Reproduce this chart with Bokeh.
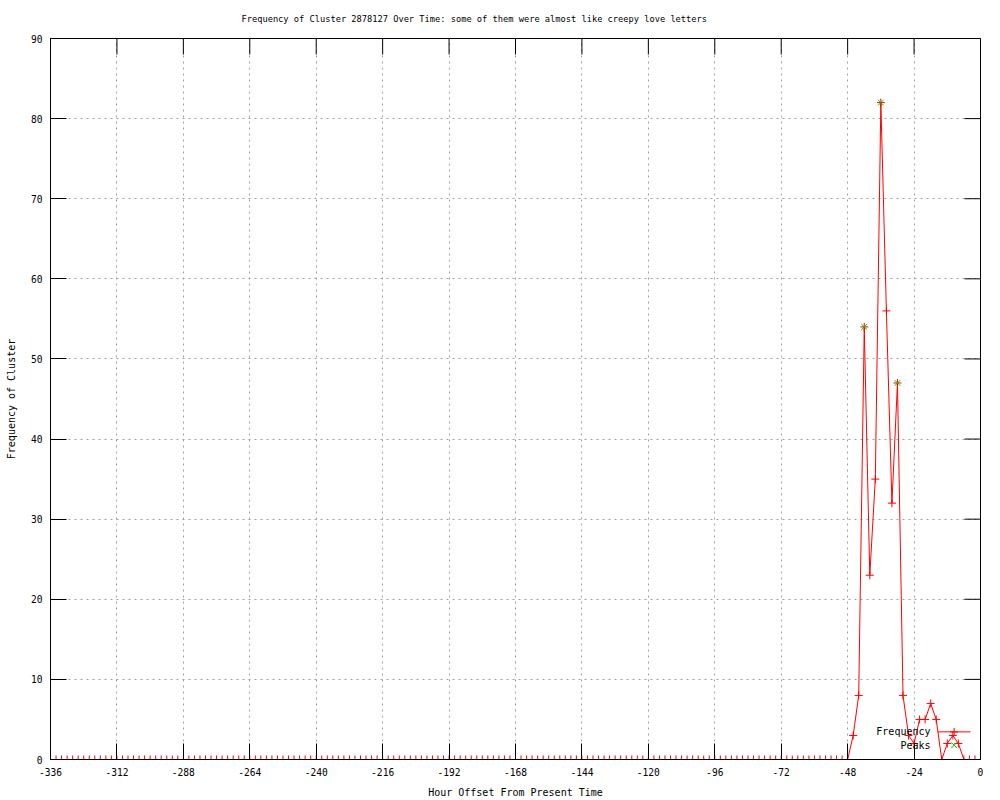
import math
from bokeh.plotting import figure
from bokeh.models import Range1d, FixedTicker, Label
from bokeh.embed import file_html
from bokeh.resources import INLINE

# ---- data -------------------------------------------------------------
hours = list(range(-336, 0, 2))  # sample positions (every 2 hours)
counts = [
    0, 0, 0, 0, 0, 0, 0, 0, 0, 0, 0, 0,   # -336 .. -314
    0, 0, 0, 0, 0, 0, 0, 0, 0, 0, 0, 0,   # -312 .. -290
    0, 0, 0, 0, 0, 0, 0, 0, 0, 0, 0, 0,   # -288 .. -266
    0, 0, 0, 0, 0, 0, 0, 0, 0, 0, 0, 0,   # -264 .. -242
    0, 0, 0, 0, 0, 0, 0, 0, 0, 0, 0, 0,   # -240 .. -218
    0, 0, 0, 0, 0, 0, 0, 0, 0, 0, 0, 0,   # -216 .. -194
    0, 0, 0, 0, 0, 0, 0, 0, 0, 0, 0, 0,   # -192 .. -170
    0, 0, 0, 0, 0, 0, 0, 0, 0, 0, 0, 0,   # -168 .. -146
    0, 0, 0, 0, 0, 0, 0, 0, 0, 0, 0, 0,   # -144 .. -122
    0, 0, 0, 0, 0, 0, 0, 0, 0, 0, 0, 0,   # -120 .. -98
    0, 0, 0, 0, 0, 0, 0, 0, 0, 0, 0, 0,   # -96 .. -74
    0, 0, 0, 0, 0, 0, 0, 0, 0, 0, 0, 0,   # -72 .. -50
    0, 3, 8, 54, 23, 35, 82, 56, 32, 47, 8, 3,   # -48 .. -26
    2, 5, 5, 7, 5, 0, 2, 3, 2, 0, 0, 0,          # -24 .. -2
]
peak_hours = [-42, -36, -30]
peak_counts = [54, 82, 47]

x_ticks = [-336, -312, -288, -264, -240, -216, -192, -168, -144, -120, -96, -72, -48, -24, 0]
x_tick_labels = ["-336", "-312", "-288", "-264", "-240", "-216", "-192", "-168",
                 "-144", "-120", "-96", "-72", "-48", "-24", "0"]
y_ticks = [0, 10, 20, 30, 40, 50, 60, 70, 80, 90]
X_MIN, X_MAX = -336, 0
Y_MIN, Y_MAX = 0, 90

title_text = "Frequency of Cluster 2878127 Over Time: some of them were almost like creepy love letters"
x_label = "Hour Offset From Present Time"
y_label = "Frequency of Cluster"
series_names = ["Frequency", "Peaks"]

FONT = "DejaVu Sans Mono"
RED = "#ff0000"
GREEN = "#00c000"

# ---- figure -----------------------------------------------------------
p = figure(width=1000, height=800, output_backend="svg", toolbar_location=None,
           x_range=Range1d(X_MIN, X_MAX), y_range=Range1d(Y_MIN, Y_MAX),
           min_border_left=50, min_border_right=20, min_border_top=38, min_border_bottom=40)
p.background_fill_color = "white"
p.border_fill_color = "white"
p.outline_line_color = "black"
p.outline_line_width = 1

p.title.text = title_text
p.title.align = "left"
p.title.vertical_align = "top"
p.title.offset = 191
p.title.text_font = FONT
p.title.text_font_size = "8.7px"
p.title.text_font_style = "normal"
p.title.text_color = "black"
p.title.standoff = 25

xt = FixedTicker(ticks=x_ticks)
yt = FixedTicker(ticks=y_ticks)

for ax in p.xaxis:
    ax.ticker = xt
    ax.major_label_overrides = {t: s for t, s in zip(x_ticks, x_tick_labels)}
    ax.axis_label = x_label
    ax.major_label_standoff = 8
    ax.axis_label_standoff = 8
for ax in p.yaxis:
    ax.ticker = yt
    ax.axis_label = y_label
    ax.major_label_standoff = 8
    ax.axis_label_standoff = 11

for ax in p.xaxis + p.yaxis:
    ax.major_tick_in = 16
    ax.major_tick_out = 0
    ax.minor_tick_line_color = None
    ax.major_tick_line_color = "black"
    ax.axis_line_color = "black"
    ax.major_label_text_font = FONT
    ax.major_label_text_font_size = "9.6px"
    ax.major_label_text_color = "black"
    ax.axis_label_text_font = FONT
    ax.axis_label_text_font_style = "normal"
    ax.axis_label_text_font_size = "10px"
    ax.axis_label_text_color = "black"

p.xgrid.ticker = FixedTicker(ticks=x_ticks)
p.ygrid.ticker = FixedTicker(ticks=y_ticks)
p.grid.grid_line_color = "#a0a0a0"
p.grid.grid_line_dash = "2 4"
p.grid.grid_line_width = 1

# mirrored ticks on the top and right frame edges (dash markers clipped by the frame)
p.scatter(x_ticks, [Y_MAX] * len(x_ticks), marker="dash", size=32, angle=math.pi / 2,
          line_color="black", line_width=1)
p.scatter([X_MAX] * len(y_ticks), y_ticks, marker="dash", size=32,
          line_color="black", line_width=1)

# ---- data glyphs ------------------------------------------------------
p.line(hours, counts, line_color=RED, line_width=1)
p.scatter(hours, counts, marker="cross", size=8, line_color=RED, line_width=1)
p.scatter(peak_hours, peak_counts, marker="x", size=8, line_color=GREEN, line_width=1)

# ---- key (gnuplot style: text left, sample right) ----------------------
key_text_x = -18.06
key_sample_x0, key_sample_x1, key_sample_xc = -15.43, -3.61, -9.52
key_y1, key_y2 = 3.45, 1.78
p.add_layout(Label(x=key_text_x, y=key_y1, text=series_names[0], text_align="right",
                   text_baseline="middle", text_font=FONT, text_font_size="10px",
                   text_color="black"))
p.add_layout(Label(x=key_text_x, y=key_y2, text=series_names[1], text_align="right",
                   text_baseline="middle", text_font=FONT, text_font_size="10px",
                   text_color="black"))
p.line([key_sample_x0, key_sample_x1], [key_y1, key_y1], line_color=RED, line_width=1)
p.scatter([key_sample_xc], [key_y1], marker="cross", size=8, line_color=RED)
p.scatter([key_sample_xc], [key_y2], marker="x", size=8, line_color=GREEN)

open("out.html", "w").write(file_html(p, INLINE))
